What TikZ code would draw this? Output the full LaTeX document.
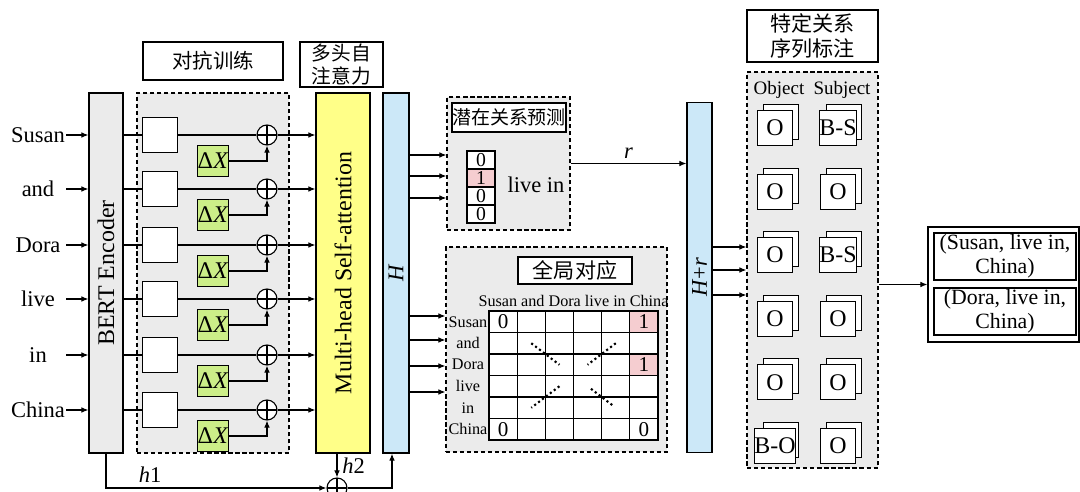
\documentclass[tikz,border=0pt]{standalone}
\usepackage{fontspec}
\setmainfont{Liberation Serif}
\newfontfamily\cjk{Noto Sans CJK SC}
\usepackage{tikz}
\usetikzlibrary{arrows.meta}
\definecolor{EncGray}{HTML}{EBEBEB}
\definecolor{AttnYellow}{HTML}{FFFF88}
\definecolor{HBlue}{HTML}{CCE8F8}
\definecolor{DeltaGreen}{HTML}{CCEE88}
\definecolor{HitPink}{HTML}{F5CDD0}

\begin{document}
\begin{tikzpicture}[x=0.025cm, y=-0.025cm, line width=0.8pt,
  >={Latex[length=5pt,width=4pt]},
  font=\fontsize{16}{18}\selectfont,
  plainbox/.style={draw, fill=white, inner sep=0pt},
  graybox/.style={draw, fill=EncGray, inner sep=0pt},
  region/.style={draw, dash pattern=on 3pt off 2pt, fill=EncGray, inner sep=0pt},
  titlebox/.style={draw, fill=white, inner sep=0pt, align=center, font=\cjk\fontsize{14.5}{17}\selectfont},
  word/.style={inner sep=0pt, minimum width=1.375cm},
  emptybox/.style={plainbox, minimum size=0.875cm},
  dxbox/.style={draw, fill=DeltaGreen, inner sep=0pt, minimum size=0.78cm, font=\fontsize{17}{17}\selectfont},
  sumnode/.style={draw, circle, fill=white, minimum size=0.5cm, inner sep=0pt,
    path picture={\draw (path picture bounding box.north) -- (path picture bounding box.south)
      (path picture bounding box.west) -- (path picture bounding box.east);}},
  vcell/.style={plainbox, minimum width=0.7cm, minimum height=0.45cm, text height=9.5pt, text depth=0pt, font=\fontsize{14}{14}\selectfont},
  cell/.style={plainbox, minimum width=0.704cm, minimum height=0.5375cm, font=\fontsize{15}{15}\selectfont},
  tagbox/.style={plainbox, minimum size=0.875cm, font=\fontsize{17}{17}\selectfont}]
\useasboundingbox (0,0) rectangle (1080,492);

% encoder, attention and H columns
\node[graybox, minimum width=0.85cm, minimum height=9cm] (bert) at (106,273)
  {\rotatebox{90}{\fontsize{17}{17}\selectfont BERT Encoder}};
\node[region, minimum width=3.8cm, minimum height=9cm] (adv) at (213,273) {};
\node[titlebox, minimum width=3.5cm, minimum height=0.95cm] (advlabel) at (213,61) {对抗训练};
\node[draw, fill=AttnYellow, inner sep=0pt, minimum width=1.35cm, minimum height=9cm] (mha) at (343,273)
  {\rotatebox{90}{\fontsize{17}{17}\selectfont Multi-head Self-attention}};
\node[titlebox, minimum width=2.075cm, minimum height=1.125cm, font=\cjk\fontsize{14}{16}\selectfont] (mhalabel) at (341.5,64.5) {多头自\\注意力};
\node[draw, fill=HBlue, inner sep=0pt, minimum width=0.65cm, minimum height=9cm] (Hbox) at (396,273)
  {\rotatebox{90}{\textit{H}}};

% tokens
\foreach \w/\y [count=\i] in {Susan/135, and/189, Dora/245, live/299, in/355, China/410} {
  \node[word] (w\i) at (38,\y) {\w};
  \draw[->] (w\i.east) -- (bert.west |- w\i);
  \node[emptybox] (e\i) at (160,\y) {};
  \node[sumnode] (s\i) at (267,\y) {};
  \node[dxbox] (d\i) at (213,\y+26) {Δ\textit{X}};
  \draw (bert.east |- w\i) -- (e\i.west) (e\i.east) -- (s\i.west);
  \draw[->] (s\i.east) -- (mha.west |- s\i);
  \draw[->] (d\i.east) -| (s\i.south);
}

% residual h1 + h2
\node[sumnode] (sum) at (337,488) {};
\draw[->] (bert.south) |- node[above, pos=0.6] {\textit{h}1} (sum.west);
\draw[->] (sum |- mha.south) -- node[right] {\textit{h}2} (sum.north);
\draw[->] (sum.east) -| ([xshift=-0.1cm]Hbox.south);

% latent relation prediction
\node[region, minimum width=3.075cm, minimum height=3.325cm] (latent) at (508.5,163.5) {};
\node[titlebox, minimum width=2.8cm, minimum height=0.725cm, font=\cjk\fontsize{13.5}{15}\selectfont] (latentlabel) at (509,117.5) {潜在关系预测};
\foreach \v/\f [count=\i] in {0/white, 1/HitPink, 0/white, 0/white}
  \node[vcell, fill=\f] (v\i) at (481,{160+18*(\i-1)}) {\v};
\node (rel) at (536,185) {live in};
\foreach \y [count=\i] in {155,176,198} {
  \coordinate (la\i) at (430,\y);
  \draw[->] (Hbox.east |- la\i) -- (latent.west |- la\i);
}

% global correspondence
\node[region, minimum width=5.525cm, minimum height=5.125cm] (global) at (556.5,349.5) {};
\node[titlebox, minimum width=2.85cm, minimum height=0.675cm, font=\cjk\fontsize{15}{17}\selectfont] (globallabel) at (575,270.5) {全局对应};
\node[font=\fontsize{11.5}{11}\selectfont] (colhead) at (573.5,301) {Susan and Dora live in China};
\foreach \r in {1,...,6}
  \foreach \c in {1,...,6}
    \node[cell] (g\r\c) at ({489+28.17*(\c-0.5)},{311+21.5*(\r-0.5)}) {};
\foreach \r/\c in {1/6, 3/6}
  \node[cell, fill=HitPink] (p\r\c) at (g\r\c) {1};
\foreach \r/\c in {1/1, 6/1, 6/6}
  \node[inner sep=0pt, font=\fontsize{15}{15}\selectfont] (z\r\c) at (g\r\c) {0};
\foreach \w [count=\r] in {Susan,and,Dora,live,in,China}
  \node[inner sep=0pt, font=\fontsize{11.5}{11}\selectfont] (rh\r) at (468,0 |- g\r1) {\w};
\draw[dotted, line width=1.5pt, shorten <=3pt, shorten >=3pt]
  (g22.center) -- (g33.center) (g25.center) -- (g34.center)
  (g43.center) -- (g52.center) (g44.center) -- (g55.center);
\foreach \y [count=\i] in {316,340,366,392} {
  \coordinate (ga\i) at (430,\y);
  \draw[->] (Hbox.east |- ga\i) -- (global.west |- ga\i);
}

% H+r and sequence tagging
\node[draw, fill=HBlue, inner sep=0pt, minimum width=0.625cm, minimum height=8.75cm] (Hr) at (699.5,277.5)
  {\rotatebox{90}{\textit{H}+\textit{r}}};
\draw[->] (latent.east) -- node[above] {\textit{r}} (Hr.west |- latent.east);
\node[titlebox, minimum width=3.275cm, minimum height=1.3cm, font=\cjk\fontsize{15}{17.5}\selectfont] (seqlabel) at (812.5,36) {特定关系\\序列标注};
\node[region, minimum width=3.275cm, minimum height=9.9cm] (seq) at (812.5,270) {};
\node[font=\fontsize{13.5}{14}\selectfont, inner sep=0pt] (objhead) at (779,90) {Object};
\node[font=\fontsize{13.5}{14}\selectfont, inner sep=0pt] (subhead) at (842,90) {Subject};
\foreach \y [count=\i] in {247,270,295} {
  \coordinate (ha\i) at (730,\y);
  \draw[->] (Hr.east |- ha\i) -- (seq.west |- ha\i);
}
\foreach \o/\s [count=\i] in {O/B-S, O/O, O/B-S, O/O, O/O, B-O/O} {
  \pgfmathsetmacro\ty{128+63.6*(\i-1)}
  \node[tagbox] (ob\i) at (781,\ty-6) {};
  \node[tagbox] (of\i) at (775,\ty) {\o};
  \node[tagbox] (sb\i) at (844,\ty-6) {};
  \node[tagbox] (sf\i) at (838,\ty) {\s};
}

% extracted triples
\node[plainbox, minimum width=3.775cm, minimum height=2.875cm] (out) at (1003.5,284.5) {};
\node[plainbox, minimum width=3.55cm, minimum height=1.175cm, align=center, font=\fontsize{15.5}{17}\selectfont] (t1) at (1005,256.5) {(Susan, live in,\\China)};
\node[plainbox, minimum width=3.55cm, minimum height=1.175cm, align=center, font=\fontsize{15.5}{17}\selectfont] (t2) at (1005,311.5) {(Dora, live in,\\China)};
\draw[->] (seq.east |- out.west) -- (out.west);
\end{tikzpicture}
\end{document}
